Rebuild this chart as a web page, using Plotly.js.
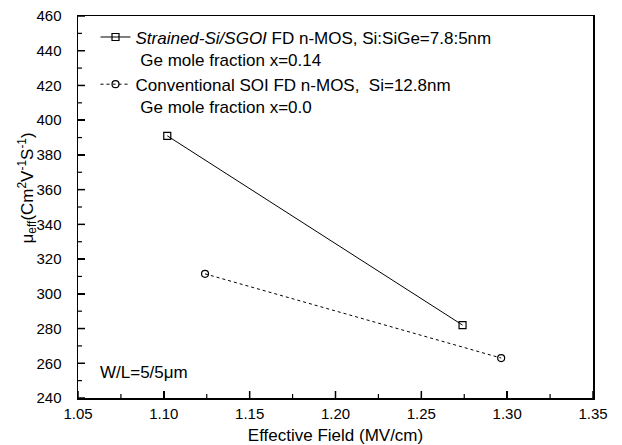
<!DOCTYPE html>
<html>
<head>
<meta charset="utf-8">
<script src="https://cdn.plot.ly/plotly-3.0.1.min.js"></script>
<style>html,body{margin:0;padding:0;background:#fff;}#chart{width:622px;height:445px;}</style>
</head>
<body>
<div id="chart"></div>
<script>
// Data
const strainedField = [1.102, 1.274];
const strainedMobility = [391, 282];
const soiField = [1.124, 1.2965];
const soiMobility = [311.5, 263];
const strainedName = "<i>Strained-Si/SGOI</i> FD n-MOS, Si:SiGe=7.8:5nm<br>&nbsp;Ge mole fraction x=0.14";
const soiName = "Conventional SOI FD n-MOS,  Si=12.8nm<br>&nbsp;Ge mole fraction x=0.0";
const xRange = [1.05, 1.35];
const yRange = [240, 460];
const xMajorTicks = [1.05, 1.10, 1.15, 1.20, 1.25, 1.30, 1.35];
const xMinorTicks = [1.075, 1.125, 1.175, 1.225, 1.275, 1.325];
const yMajorTicks = [240, 260, 280, 300, 320, 340, 360, 380, 400, 420, 440, 460];
const yMinorTicks = [250, 270, 290, 310, 330, 350, 370, 390, 410, 430, 450];

const FONT = "Liberation Sans, Arial, Helvetica, sans-serif";

const traces = [
  {
    x: strainedField, y: strainedMobility, name: strainedName,
    mode: "lines+markers", type: "scatter",
    line: {color: "#000", width: 1, dash: "solid"},
    marker: {symbol: "square-open", size: 7, color: "#000", line: {width: 1.2}}
  },
  {
    x: soiField, y: soiMobility, name: soiName,
    mode: "lines+markers", type: "scatter",
    line: {color: "#000", width: 1, dash: "dot"},
    marker: {symbol: "circle-open", size: 7, color: "#000", line: {width: 1.2}}
  }
];

function axisBase() {
  return {
    showline: true, linecolor: "#000", linewidth: 1.5, mirror: true,
    ticks: "inside", ticklen: 7, tickwidth: 1.5, tickcolor: "#000",
    showgrid: false, zeroline: false, tickmode: "linear",
    tickfont: {family: FONT, size: 15, color: "#000"}
  };
}

// tick marks along the bottom and left axes, placed through the axis scales
const PLOT_W = 622 - 78 - 29, PLOT_H = 445 - 16 - 47;
const shapes = [];
function addXTicks(vals, len, w) {
  vals.forEach(v => shapes.push({type: "line", xref: "x", yref: "paper", x0: v, x1: v,
    y0: 0, y1: len / PLOT_H, line: {color: "#000", width: w}, layer: "above"}));
}
function addYTicks(vals, len, w) {
  vals.forEach(v => shapes.push({type: "line", xref: "paper", yref: "y", y0: v, y1: v,
    x0: 0, x1: len / PLOT_W, line: {color: "#000", width: w}, layer: "above"}));
}
addXTicks(xMajorTicks, 7, 1.5);
addXTicks(xMinorTicks, 4, 1.2);
addYTicks(yMajorTicks, 7, 1.5);
addYTicks(yMinorTicks, 4, 1.2);

const layout = {
  width: 622, height: 445,
  margin: {l: 78, r: 29, t: 16, b: 47},
  paper_bgcolor: "#fff", plot_bgcolor: "#fff",
  font: {family: FONT, color: "#000"},
  showlegend: true,
  legend: {
    x: 0.034, y: 0.991, xanchor: "left", yanchor: "top",
    bgcolor: "rgba(0,0,0,0)", borderwidth: 0,
    font: {family: FONT, size: 17, color: "#000"},
    valign: "top", tracegroupgap: 0
  },
  xaxis: Object.assign(axisBase(), {
    range: xRange, tick0: 1.05, dtick: 0.05, tickformat: ".2f",
    ticklabelstandoff: 1,
    title: {text: "Effective Field (MV/cm)", font: {family: FONT, size: 17, color: "#000"}, standoff: 11}
  }),
  yaxis: Object.assign(axisBase(), {
    range: yRange, tick0: 240, dtick: 20,
    ticklabelstandoff: 12
  }),
  shapes: shapes,
  annotations: [
    {
      xref: "paper", yref: "paper", x: -0.098, y: 0.55, xanchor: "center", yanchor: "middle",
      text: "μ<sub>eff</sub>(Cm<sup>2</sup>V<sup>-1</sup>S<sup>-1</sup>)", textangle: -90,
      showarrow: false, font: {family: FONT, size: 17, color: "#000"}
    },
    {
      xref: "paper", yref: "paper", x: 0.038, y: 0.068, xanchor: "left", yanchor: "middle",
      text: "W/L=5/5μm", showarrow: false, font: {family: FONT, size: 17, color: "#000"}
    }
  ]
};

Plotly.newPlot("chart", traces, layout, {displayModeBar: false, staticPlot: true});
</script>
</body>
</html>
